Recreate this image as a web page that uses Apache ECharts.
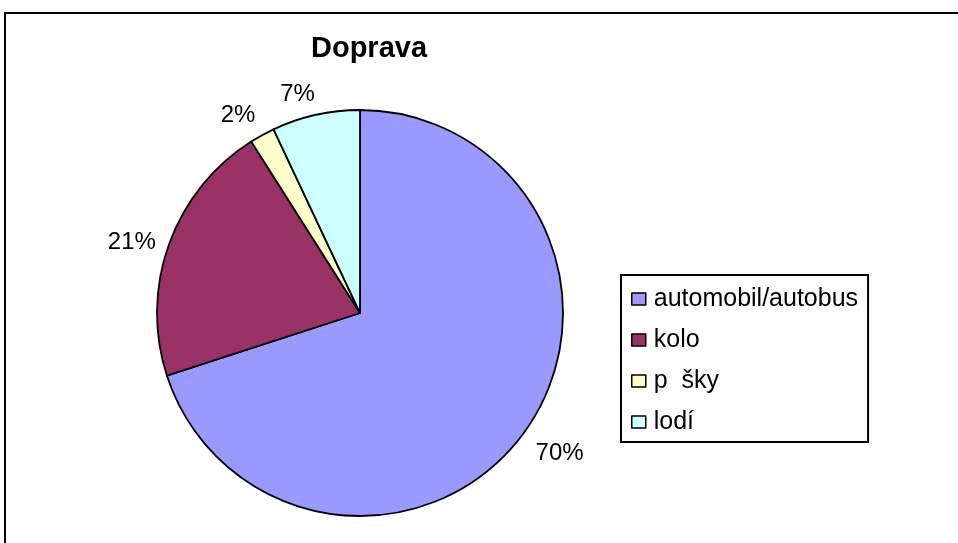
<!DOCTYPE html>
<html>
<head>
<meta charset="utf-8">
<script src="https://cdn.jsdelivr.net/npm/echarts@6/dist/echarts.min.js"></script>
<style>html,body{margin:0;padding:0;background:#fff}#c{width:958px;height:543px}</style>
</head>
<body>
<div id="c"></div>
<script>
const titleText = 'Doprava';
const categories = ['automobil/autobus', 'kolo', 'p  šky', 'lodí'];
const values = [70, 21, 2, 7];
const colors = ['#9999FF', '#993366', '#FFFFCC', '#CCFFFF'];

const CX = 360, CY = 313, R = 203, GAP = 14, GLYPH_H = 20, BASE_DY = 3;
const total = values.reduce((a, b) => a + b, 0);
const cum = [];
values.reduce((acc, v, i) => { cum[i] = acc; return acc + v; }, 0);
const clamp = (v, lo, hi) => Math.max(lo, Math.min(hi, v));

const chart = echarts.init(document.getElementById('c'));
chart.setOption({
  backgroundColor: '#fff',
  animation: false,
  textStyle: { fontFamily: 'Liberation Sans, Arial, sans-serif' },
  graphic: [{
    type: 'rect', silent: true,
    shape: { x: 5, y: 13, width: 1000, height: 700 },
    style: { fill: 'none', stroke: '#000', lineWidth: 2 }
  }],
  title: {
    text: titleText,
    left: 364, top: 29, textAlign: 'center',
    textStyle: { fontSize: 29, fontWeight: 'bold', color: '#000', fontFamily: 'Liberation Sans, Arial, sans-serif' }
  },
  legend: {
    orient: 'vertical',
    left: 621, top: 275,
    padding: [11, 10, 7, 10],
    borderColor: '#000', borderWidth: 2,
    itemWidth: 14, itemHeight: 12, itemGap: 15,
    icon: 'rect',
    itemStyle: { borderColor: '#000', borderWidth: 1.5 },
    textStyle: { fontSize: 25, lineHeight: 26, color: '#000', padding: [0, 0, 0, 3] },
    data: categories
  },
  series: [{
    type: 'pie',
    center: [CX, CY], radius: R,
    startAngle: 90, clockwise: true,
    avoidLabelOverlap: false,
    data: categories.map((n, i) => ({ name: n, value: values[i], itemStyle: { color: colors[i] } })),
    itemStyle: { borderColor: '#000', borderWidth: 1.8 },
    label: {
      show: true, position: 'outside',
      formatter: p => Math.round(p.value / total * 100) + '%',
      fontSize: 24, color: '#000'
    },
    labelLine: { show: false },
    labelLayout: function (p) {
      const i = p.dataIndex;
      const a = (cum[i] + values[i] / 2) / total * Math.PI * 2;
      const dx = Math.sin(a), dy = -Math.cos(a);
      const w = p.labelRect.width;
      const px = CX + dx * (R + GAP), py = CY + dy * (R + GAP);
      const fx = clamp(dx * 4, -1, 1);
      const fy = Math.sign(dy) * clamp((Math.abs(dy) - 0.34) / 0.24, 0, 1);
      return { x: px + fx * w / 2, y: py + fy * GLYPH_H / 2 + BASE_DY, align: 'center', verticalAlign: 'middle' };
    },
    emphasis: { disabled: true }
  }]
});
</script>
</body>
</html>
